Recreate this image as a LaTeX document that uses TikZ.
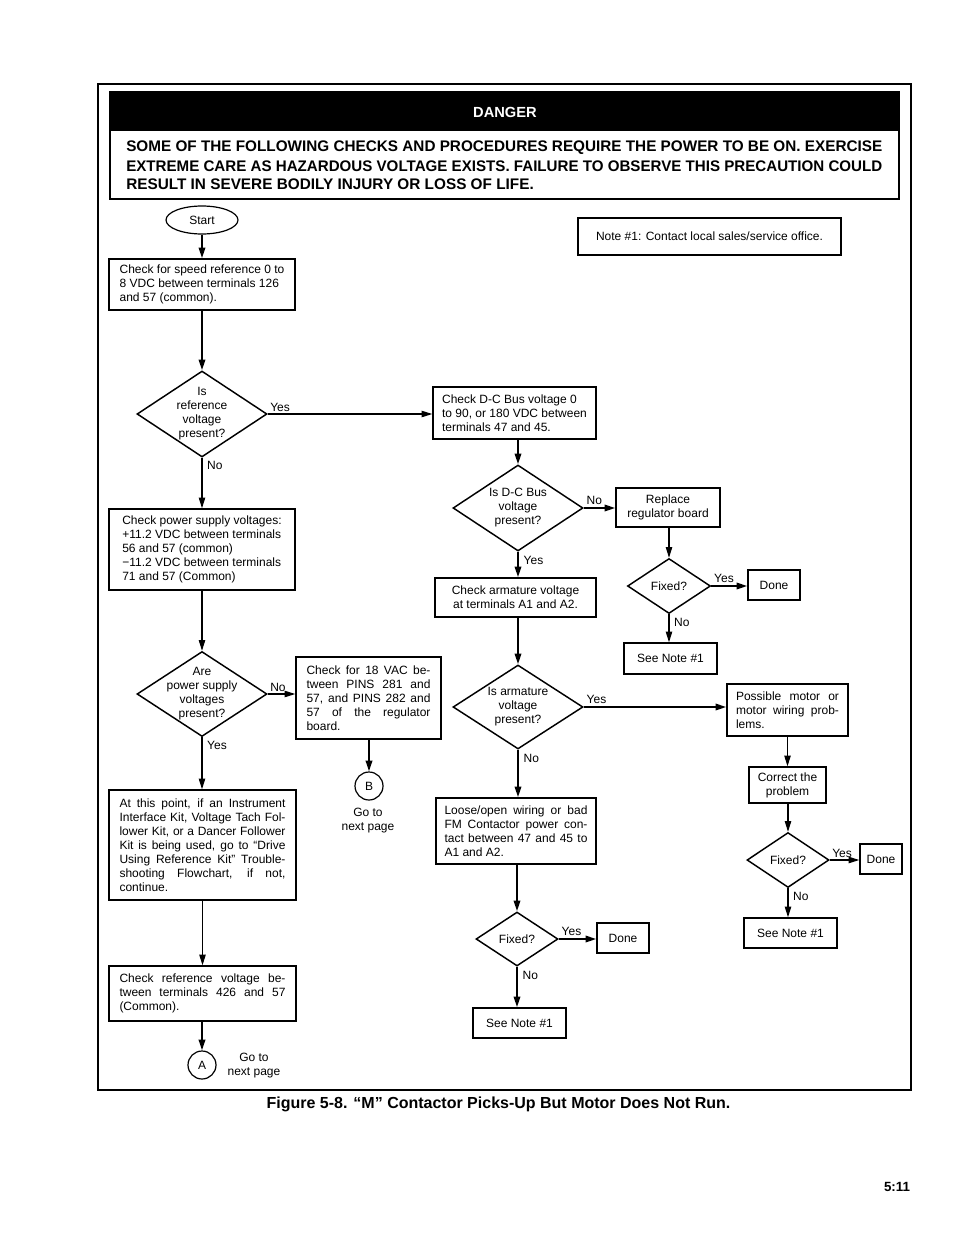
\documentclass[tikz,border=0pt]{standalone}
\usepackage{fontspec}
\setmainfont{Liberation Sans}
\usetikzlibrary{shapes.geometric,arrows.meta}
\newlength\pxu
\setlength\pxu{0.75pt}
\newcommand\fs{\fontsize{9}{10.5}\selectfont}
\newcommand\jl[2]{\makebox[#1\pxu][s]{#2}}
\begin{document}
\begin{tikzpicture}[x=0.75pt,y=-0.75pt,
  box/.style={draw,line width=1.1pt,font=\fs,inner sep=0pt},
  dia/.style={draw,diamond,line width=1.1pt,inner sep=0pt},
  dtext/.style={font=\fs,align=center,inner sep=0pt},
  ell/.style={draw,ellipse,line width=0.9pt,inner sep=0pt,font=\fs},
  conn/.style={draw,circle,line width=0.9pt,inner sep=0pt,minimum size=28\pxu,font=\fs},
  ak/.style={line width=1.5pt,-{Triangle[length=8pt,width=4.8pt]}},
  an/.style={line width=0.8pt,-{Triangle[length=8pt,width=4.8pt]}},
  lblr/.style={font=\fs,inner sep=1.5pt,pos=0,anchor=south west},
  lbld/.style={font=\fs,inner sep=1.5pt,pos=0,anchor=north west,xshift=2pt,yshift=-1pt}
]
\useasboundingbox (0,0) rectangle (954,1235);
% frame
\draw[line width=0.8pt] (98,84) rectangle (911,1090);
% danger box
\fill (110,92) rectangle (899,131);
\draw[line width=1.6pt] (110,92) rectangle (899,199);
\node[font=\bfseries\fontsize{11}{13}\selectfont,text=white,inner sep=0pt] (dtitle) at (505,112) {DANGER};
\node[anchor=west,inner sep=0pt,font=\bfseries\fontsize{11.5}{13}\selectfont] (dl1) at (126,147.5) {\resizebox{756\pxu}{\height}{SOME OF THE FOLLOWING CHECKS AND PROCEDURES REQUIRE THE POWER TO BE ON. EXERCISE}};
\node[anchor=west,inner sep=0pt,font=\bfseries\fontsize{11.5}{13}\selectfont] (dl2) at (126,166) {\resizebox{756\pxu}{\height}{EXTREME CARE AS HAZARDOUS VOLTAGE EXISTS. FAILURE TO OBSERVE THIS PRECAUTION COULD}};
\node[anchor=west,inner sep=0pt,font=\bfseries\fontsize{11.5}{13}\selectfont] (dl3) at (126,184.5) {RESULT IN SEVERE BODILY INJURY OR LOSS OF LIFE.};

% note
\node[box,line width=0.9pt,minimum width=263\pxu,minimum height=37\pxu] (note) at (709.5,236.5) {Note \#1: Contact local sales/service office.};

% left column
\node[ell,minimum width=72\pxu,minimum height=28\pxu] (start) at (202,220) {Start};
\node[box,minimum width=186\pxu,minimum height=51\pxu,align=left] (b1) at (202,284.5) {Check for speed reference 0 to\\8 VDC between terminals 126\\and 57 (common).};
\node[dia,minimum width=130\pxu,minimum height=86\pxu] (d1) at (202,414) {};
\node[dtext] (d1t) at (d1) {Is\\reference\\voltage\\present?};
\node[box,minimum width=186\pxu,minimum height=81\pxu,align=left] (b5) at (202,549.5) {Check power supply voltages:\\+11.2 VDC between terminals\\56 and 57 (common)\\−11.2 VDC between terminals\\71 and 57 (Common)};
\node[dia,minimum width=130\pxu,minimum height=85\pxu] (d4) at (202,694) {};
\node[dtext] (d4t) at (d4) {Are\\power supply\\voltages\\present?};
\node[box,minimum width=145\pxu,minimum height=82\pxu,align=left] (b6) at (368.5,698) {\jl{124}{Check for 18 VAC be-}\\\jl{124}{tween PINS 281 and}\\\jl{124}{57, and PINS 282 and}\\\jl{124}{57 of the regulator}\\board.};
\node[conn] (cB) at (369,786) {B};
\node[dtext] (gB) at (368,821) {Go to\\next page};
\node[box,minimum width=187\pxu,minimum height=110\pxu,align=left] (b7) at (202.5,845) {\jl{166}{At this point, if an Instrument}\\\jl{166}{Interface Kit, Voltage Tach Fol-}\\\jl{166}{lower Kit, or a Dancer Follower}\\\jl{166}{Kit is being used, go to “Drive}\\\jl{166}{Using Reference Kit” Trouble-}\\\jl{166}{shooting Flowchart, if not,}\\continue.};
\node[box,minimum width=187\pxu,minimum height=55\pxu,align=left] (b8) at (202.5,993.5) {\jl{166}{Check reference voltage be-}\\\jl{166}{tween terminals 426 and 57}\\(Common).};
\node[conn] (cA) at (202,1065) {A};
\node[dtext] (gA) at (254,1066) {Go to\\next page};

% middle column
\node[box,minimum width=163\pxu,minimum height=52\pxu,align=left] (b2) at (514.5,413) {Check D-C Bus voltage 0\\to 90, or 180 VDC between\\terminals 47 and 45.};
\node[dia,minimum width=130\pxu,minimum height=86\pxu] (d2) at (518,508) {};
\node[dtext] (d2t) at (d2) {Is D-C Bus\\voltage\\present?};
\node[box,minimum width=161\pxu,minimum height=39\pxu,align=center] (b3) at (515.5,597.5) {Check armature voltage\\at terminals A1 and A2.};
\node[dia,minimum width=130\pxu,minimum height=84\pxu] (d3) at (518,707) {};
\node[dtext] (d3t) at (d3) {Is armature\\voltage\\present?};
\node[box,minimum width=160\pxu,minimum height=66\pxu,align=left] (b4) at (516,831) {\jl{143}{Loose/open wiring or bad}\\\jl{143}{FM Contactor power con-}\\\jl{143}{tact between 47 and 45 to}\\A1 and A2.};
\node[dia,minimum width=82\pxu,minimum height=54\pxu] (f2) at (517,939) {};
\node[dtext] (f2t) at (f2) {Fixed?};
\node[box,minimum width=52\pxu,minimum height=30\pxu] (done2) at (623,938) {Done};
\node[box,minimum width=93\pxu,minimum height=30\pxu] (n2) at (519.5,1023) {See Note \#1};

% right column
\node[box,minimum width=104\pxu,minimum height=39\pxu,align=center] (rep) at (668,507.5) {Replace\\regulator board};
\node[dia,minimum width=83\pxu,minimum height=55\pxu] (f1) at (669,586) {};
\node[dtext] (f1t) at (f1) {Fixed?};
\node[box,minimum width=52\pxu,minimum height=30\pxu] (done1) at (774,585) {Done};
\node[box,minimum width=93\pxu,minimum height=31\pxu] (n1) at (670.5,658.5) {See Note \#1};
\node[box,minimum width=121\pxu,minimum height=52\pxu,align=left] (pos) at (787.5,710) {\jl{103}{Possible motor or}\\\jl{103}{motor wiring prob-}\\lems.};
\node[box,minimum width=77\pxu,minimum height=36\pxu,align=center] (cor) at (787.5,785) {Correct the\\problem};
\node[dia,minimum width=82\pxu,minimum height=55\pxu] (f3) at (788,860) {};
\node[dtext] (f3t) at (f3) {Fixed?};
\node[box,minimum width=42\pxu,minimum height=30\pxu] (done3) at (881,859) {Done};
\node[box,minimum width=93\pxu,minimum height=30\pxu] (n3) at (790.5,933) {See Note \#1};

% connectors
\draw[ak] (start) -- (b1);
\draw[ak] (b1) -- (d1);
\draw[an] (d1.east) -- (d1.east -| b2.west) node[lblr]{Yes};
\draw[an] (d1.south) -- (d1.south |- b5.north) node[lbld]{No};
\draw[an] (b5) -- (d4);
\draw[an] (d4.east) -- (d4.east -| b6.west) node[lblr]{No};
\draw[an] (d4.south) -- (d4.south |- b7.north) node[lbld]{Yes};
\draw[ak] (b6.south -| cB.north) -- (cB.north);
\draw[an] (b7) -- (b8);
\draw[ak] (b8.south -| cA.north) -- (cA.north);

\draw[ak] (b2.south -| d2.north) -- (d2.north);
\draw[ak] (d2.east) -- (d2.east -| rep.west) node[lblr]{No};
\draw[ak] (d2.south) -- (d2.south |- b3.north) node[lbld]{Yes};
\draw[ak] (b3.south -| d3.north) -- (d3.north);
\draw[ak] (d3.east) -- (d3.east -| pos.west) node[lblr]{Yes};
\draw[ak] (d3.south) -- (d3.south |- b4.north) node[lbld]{No};
\draw[ak] (b4.south -| f2.north) -- (f2.north);
\draw[ak] (f2.east) -- (f2.east -| done2.west) node[lblr]{Yes};
\draw[ak] (f2.south) -- (f2.south |- n2.north) node[lbld]{No};

\draw[an] (rep.south -| f1.north) -- (f1.north);
\draw[ak] (f1.east) -- (f1.east -| done1.west) node[lblr]{Yes};
\draw[an] (f1.south) -- (f1.south |- n1.north) node[lbld]{No};
\draw[an] (pos) -- (cor);
\draw[an] (cor.south -| f3.north) -- (f3.north);
\draw[an] (f3.east) -- (f3.east -| done3.west) node[lblr]{Yes};
\draw[an] (f3.south) -- (f3.south |- n3.north) node[lbld]{No};

% caption and page number
\node[font=\bfseries\fontsize{12}{14}\selectfont,inner sep=0pt] (cap) at (498.5,1104) {Figure 5-8. “M” Contactor Picks-Up But Motor Does Not Run.};
\node[font=\bfseries\fontsize{10}{12}\selectfont,inner sep=0pt] (pg) at (897,1187) {5:11};
\end{tikzpicture}
\end{document}
